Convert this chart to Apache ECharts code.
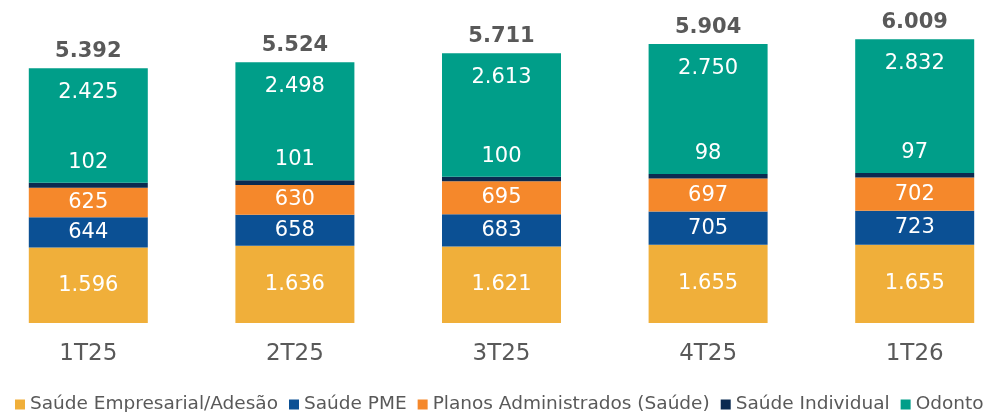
<!DOCTYPE html>
<html>
<head>
<meta charset="utf-8">
<script src="https://cdn.jsdelivr.net/npm/echarts@6/dist/echarts.min.js"></script>
<style>
  html, body { margin: 0; padding: 0; background: #fff; }
  #chart { width: 1007px; height: 412px; }
</style>
</head>
<body>
<div id="chart"></div>
<script>
const categories = ['1T25', '2T25', '3T25', '4T25', '1T26']
const empresarial = [1596, 1636, 1621, 1655, 1655]
const pme = [644, 658, 683, 705, 723]
const administrados = [625, 630, 695, 697, 702]
const individual = [102, 101, 100, 98, 97]
const odonto = [2425, 2498, 2613, 2750, 2832]
const totals = [5392, 5524, 5711, 5904, 6009]

// numero no formato pt-BR (1.596)
const fmt = v => v.toLocaleString('pt-BR')
const font = 'DejaVu Sans'

const chart = echarts.init(document.getElementById('chart'))

const innerLabel = {
  show: true,
  color: '#fff',
  fontSize: 21,
  fontFamily: font,
  formatter: p => fmt(p.value)
}

function seg (name, data, color, label) {
  return {
    name: name,
    type: 'bar',
    stack: 'total',
    barWidth: 119,
    data: data,
    itemStyle: { color: color },
    label: label,
    emphasis: { disabled: true }
  }
}

chart.setOption({
  animation: false,
  grid: { left: -15, right: -11, top: 16, bottom: 89, outerBoundsMode: 'none' },
  legend: {
    left: 10,
    top: 390,
    width: 1000,
    icon: 'rect',
    itemWidth: 10,
    itemHeight: 10,
    itemGap: 11,
    textStyle: { color: '#595959', fontSize: 18.5, fontFamily: font },
    data: ['Saúde Empresarial/Adesão', 'Saúde PME', 'Planos Administrados (Saúde)', 'Saúde Individual', 'Odonto']
  },
  xAxis: {
    type: 'category',
    data: categories,
    axisLine: { show: false },
    axisTick: { show: false },
    axisLabel: { color: '#595959', fontSize: 23, fontFamily: font, margin: 20 }
  },
  yAxis: {
    type: 'value',
    min: 0,
    max: 6500,
    show: false,
    splitLine: { show: false }
  },
  series: [
    seg('Saúde Empresarial/Adesão', empresarial, '#F0AF3A', innerLabel),
    seg('Saúde PME', pme, '#0B5094', innerLabel),
    seg('Planos Administrados (Saúde)', administrados, '#F5882B', innerLabel),
    seg('Saúde Individual', individual, '#0B2A50',
      Object.assign({}, innerLabel, { position: 'top', distance: 10 })),
    seg('Odonto', odonto, '#009E89',
      Object.assign({}, innerLabel, { position: 'insideTop', distance: 14 })),
    {
      name: 'Total',
      type: 'bar',
      stack: 'total',
      barWidth: 119,
      data: totals.map(() => 0),
      itemStyle: { color: 'transparent' },
      label: {
        show: true,
        position: 'top',
        distance: 6,
        color: '#595959',
        fontSize: 21,
        fontWeight: 'bold',
        fontFamily: font,
        formatter: p => fmt(totals[p.dataIndex])
      }
    }
  ]
})
</script>
</body>
</html>
